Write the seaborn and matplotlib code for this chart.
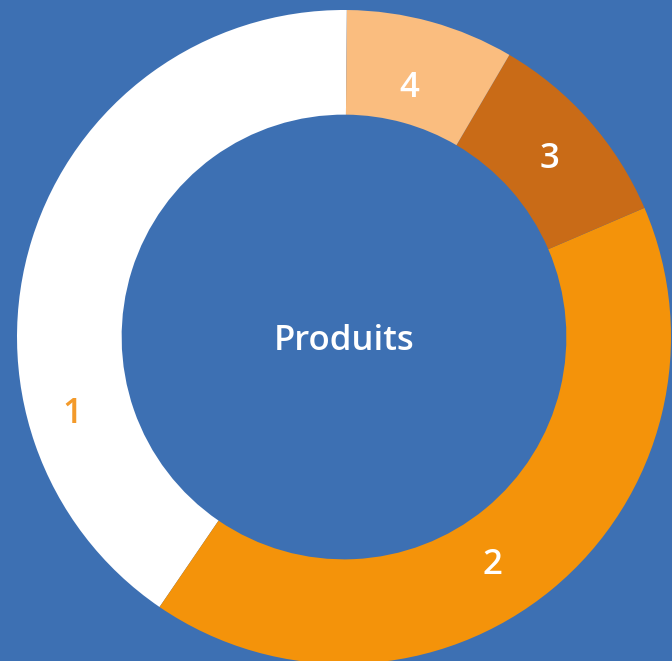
import numpy as np
import matplotlib
matplotlib.use("Agg")
import matplotlib.pyplot as plt
import seaborn as sns

# ---- data ----
categories = ["1", "2", "3", "4"]
values = [40.6, 41.0, 10.1, 8.3]
center_label = "Produits"

# ---- style ----
bg = "#3D70B3"
colors = sns.color_palette(["#FFFFFF", "#F4930A", "#C96B17", "#FABD7F"])
label_colors = ["#F39A2A", "#FFFFFF", "#FFFFFF", "#FFFFFF"]
# label positions (polar, angle in degrees, radius in units of outer radius)
label_angles = [195.0, 303.5, 41.5, 75.5]
label_radii = [0.86, 0.82, 0.84, 0.80]

sns.set_theme(style="white")
plt.rcParams["font.family"] = ["Open Sans", "DejaVu Sans"]

fig = plt.figure(figsize=(6.72, 6.61), dpi=100)
fig.patch.set_facecolor(bg)
ax = fig.add_axes([0, 0, 1, 1])
ax.set_facecolor(bg)

R = 327.0
cx, cy = 344.0, 337.0
dy = -4.0 / R
ax.pie(values, colors=colors, startangle=89.5, counterclock=True, radius=1.0,
       wedgeprops=dict(width=0.32, edgecolor="none", linewidth=0))

for cat, ang, r, c in zip(categories, label_angles, label_radii, label_colors):
    t = np.deg2rad(ang)
    ax.text(r * np.cos(t), r * np.sin(t) + dy, cat, color=c, fontsize=25,
            ha="center", va="center", fontweight="semibold")

ax.text(0, dy, center_label, color="white", fontsize=25, ha="center",
        va="center", fontweight="semibold")

ax.set_aspect("auto")
ax.set_xlim(-cx / R, (672 - cx) / R)
ax.set_ylim(-(661 - cy) / R, cy / R)
ax.axis("off")

fig.savefig("out.png", dpi=100, facecolor=bg)
